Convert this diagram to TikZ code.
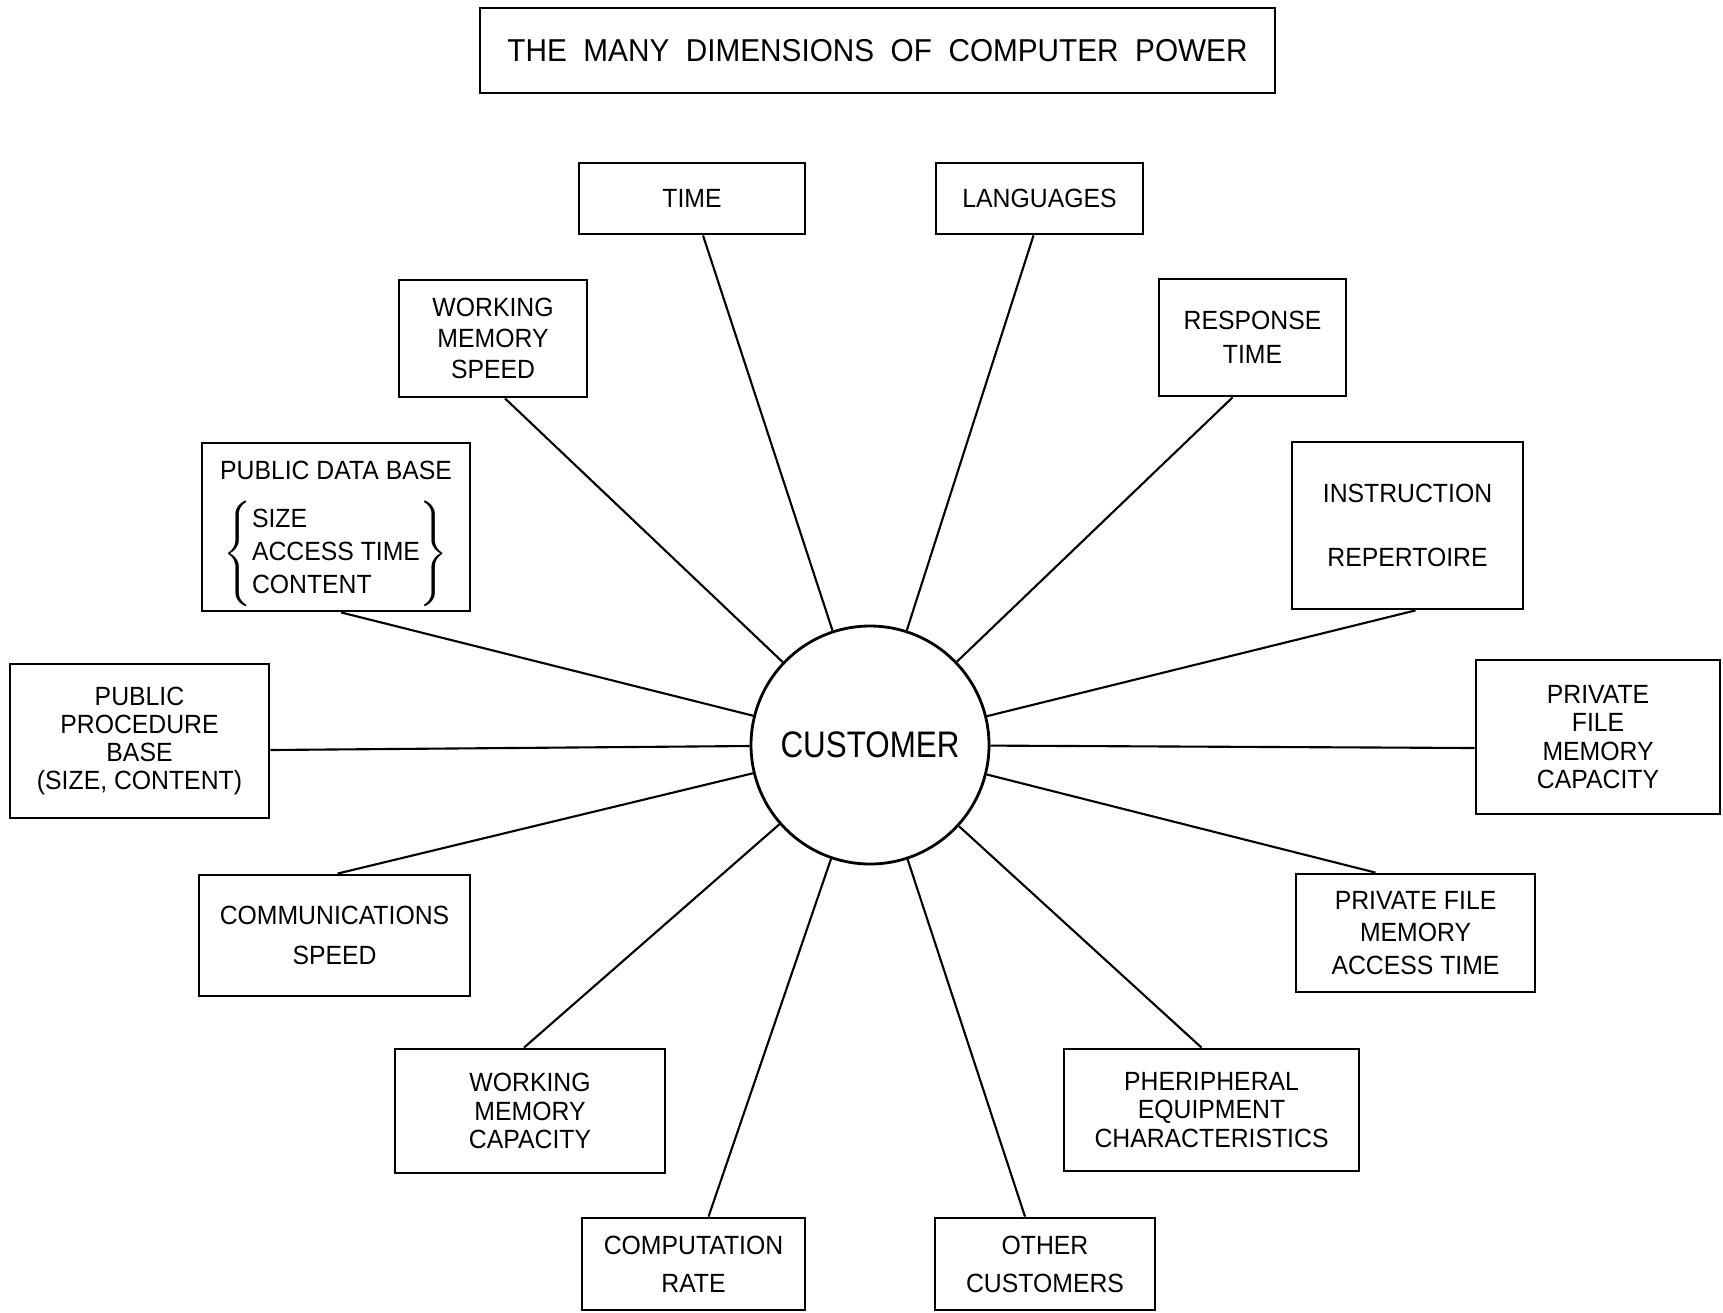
\documentclass[tikz,border=0pt]{standalone}
\usepackage{fontspec}
\setmainfont{Liberation Sans}[FakeStretch=0.94]
\newfontfamily\custfont{Liberation Sans}[FakeStretch=0.85]

\begin{document}
\begin{tikzpicture}[x=0.1mm, y=-0.1mm,
    box/.style={draw, line width=0.8pt, align=center, inner sep=0pt,
      font=\fontsize{7.5}{8.8}\selectfont},
    spoke/.style={line width=0.6pt}]
    \useasboundingbox (0,0) rectangle (1723,1312);

    \node[box, minimum width=79.5mm, minimum height=8.5mm, font=\fontsize{9}{10}\selectfont]
      (title) at (877.5,50.5) {THE\ \ MANY\ \ DIMENSIONS\ \ OF\ \ COMPUTER\ \ POWER};

    \node[draw, circle, line width=0.8pt, minimum size=23.8mm, inner sep=0pt,
      font=\custfont\fontsize{10.5}{12}\selectfont] (cust) at (870,745) {CUSTOMER};

    \node[box, minimum width=22.6mm, minimum height=7.1mm] (time) at (692,198.5) {TIME};
    \node[box, minimum width=20.7mm, minimum height=7.1mm] (lang) at (1039.5,198.5) {LANGUAGES};
    \node[box, minimum width=18.8mm, minimum height=11.7mm] (wms) at (493,338.5) {WORKING\\MEMORY\\SPEED};
    \node[box, minimum width=18.7mm, minimum height=11.7mm] (resp) at (1252.5,337.5) {RESPONSE\\[1pt]TIME};
    \node[box, minimum width=26.8mm, minimum height=16.8mm] (pdb) at (336,527)
      {\rule{0pt}{3.2mm}PUBLIC DATA BASE\\[5pt]$\left\{\fontsize{7.5}{9.4}\selectfont
        \begin{tabular}{@{}l@{}}SIZE\\ACCESS TIME\\CONTENT\end{tabular}\right\}$};
    \node[box, minimum width=23.1mm, minimum height=16.7mm] (instr) at (1407.5,525.5) {INSTRUCTION\\[9.6pt]REPERTOIRE};
    \node[box, minimum width=25.9mm, minimum height=15.4mm, font=\fontsize{7.5}{8}\selectfont]
      (ppb) at (139.5,741) {PUBLIC\\PROCEDURE\\BASE\\(SIZE, CONTENT)};
    \node[box, minimum width=24.4mm, minimum height=15.4mm, font=\fontsize{7.5}{8}\selectfont]
      (pfmc) at (1598,737) {PRIVATE\\FILE\\MEMORY\\CAPACITY};
    \node[box, minimum width=27.1mm, minimum height=12.1mm] (comm) at (334.5,935.5) {COMMUNICATIONS\\[2.5pt]SPEED};
    \node[box, minimum width=23.9mm, minimum height=11.8mm] (pfmat) at (1415.5,933) {PRIVATE FILE\\[0.5pt]MEMORY\\[0.5pt]ACCESS TIME};
    \node[box, minimum width=27mm, minimum height=12.4mm, font=\fontsize{7.5}{8.2}\selectfont]
      (wmc) at (530,1111) {WORKING\\MEMORY\\CAPACITY};
    \node[box, minimum width=29.5mm, minimum height=12.2mm, font=\fontsize{7.5}{8.2}\selectfont]
      (pher) at (1211.5,1110) {PHERIPHERAL\\EQUIPMENT\\CHARACTERISTICS};
    \node[box, minimum width=22.3mm, minimum height=9.2mm] (comp) at (693.5,1264) {COMPUTATION\\[2pt]RATE};
    \node[box, minimum width=22mm, minimum height=9.2mm] (other) at (1045,1264) {OTHER\\[2pt]CUSTOMERS};

    \draw[spoke] ([xshift=1.1mm]time.south) -- (cust);
    \draw[spoke] ([xshift=-0.6mm]lang.south) -- (cust);
    \draw[spoke] ([xshift=1.2mm]wms.south) -- (cust);
    \draw[spoke] ([xshift=-2mm]resp.south) -- (cust);
    \draw[spoke] ([xshift=0.5mm]pdb.south) -- (cust);
    \draw[spoke] ([xshift=0.8mm]instr.south) -- (cust);
    \draw[spoke] ([yshift=-0.9mm]ppb.east) -- (cust);
    \draw[spoke] ([yshift=-1.1mm]pfmc.west) -- (cust);
    \draw[spoke] ([xshift=0.3mm]comm.north) -- (cust);
    \draw[spoke] ([xshift=-4mm]pfmat.north) -- (cust);
    \draw[spoke] ([xshift=-0.6mm]wmc.north) -- (cust);
    \draw[spoke] ([xshift=-1mm]pher.north) -- (cust);
    \draw[spoke] ([xshift=1.5mm]comp.north) -- (cust);
    \draw[spoke] ([xshift=-2mm]other.north) -- (cust);
\end{tikzpicture}
\end{document}
